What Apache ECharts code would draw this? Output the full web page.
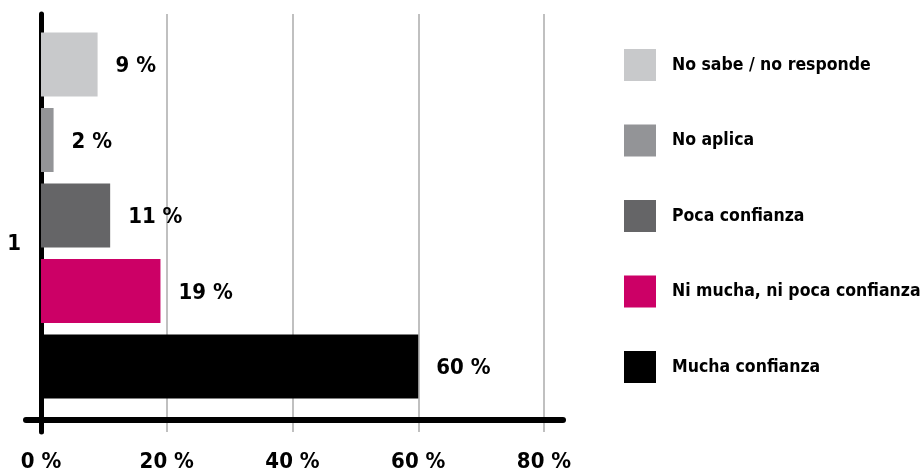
<!DOCTYPE html>
<html>
<head>
<meta charset="utf-8">
<script src="https://cdn.jsdelivr.net/npm/echarts@6/dist/echarts.min.js"></script>
<style>html,body{margin:0;padding:0;background:#fff;}#c{width:924px;height:473px;}</style>
</head>
<body>
<div id="c"></div>
<script>
const categories = ['1'];
const seriesNames = ['No sabe / no responde', 'No aplica', 'Poca confianza', 'Ni mucha, ni poca confianza', 'Mucha confianza'];
const noSabe = [9];
const noAplica = [2];
const poca = [11];
const niMucha = [19];
const mucha = [60];
const seriesValues = [noSabe, noAplica, poca, niMucha, mucha];
const seriesColors = ['#c8c9cb', '#939497', '#656567', '#cc0066', '#000000'];
const xMin = 0, xMax = 80, xStep = 20;

const FONT = "'Liberation Sans Narrow','Arial Narrow','DejaVu Sans Condensed',sans-serif";
const chart = echarts.init(document.getElementById('c'), null, {renderer: 'canvas'});

const series = seriesNames.map((name, i) => ({
  name: name,
  type: 'bar',
  xAxisIndex: 0,
  yAxisIndex: 0,
  data: seriesValues[i],
  barWidth: 64,
  barGap: '18%',
  itemStyle: {color: seriesColors[i]},
  label: {
    show: true,
    position: 'right',
    distance: 18,
    formatter: '{c} %',
    color: '#000',
    fontFamily: FONT,
    fontWeight: 'bold',
    fontSize: 22,
    offset: [0, 2]
  },
  z: 3
}));

chart.setOption({
  animation: false,
  backgroundColor: '#fff',
  grid: [
    {left: 41, width: 503, top: 14, height: 404},
    {left: 41, width: 503, top: 14, height: 418},
    {left: 26, width: 537, top: 14, height: 406}
  ],
  xAxis: [
    {
      gridIndex: 0, type: 'value', min: xMin, max: xMax, interval: xStep,
      axisLine: {show: false}, axisTick: {show: false}, splitLine: {show: false},
      axisLabel: {
        formatter: v => v + ' %', fontFamily: FONT, fontWeight: 'bold', fontSize: 22,
        color: '#000', margin: 34
      }
    },
    {
      gridIndex: 1, type: 'value', min: xMin, max: xMax, interval: xStep,
      axisLine: {show: false}, axisTick: {show: false}, axisLabel: {show: false},
      splitLine: {show: true, lineStyle: {color: '#ababab', width: 1.5}}
    },
    {
      gridIndex: 2, type: 'value', min: 0, max: 1,
      axisLine: {show: true, onZero: false, lineStyle: {color: '#000', width: 6}},
      axisTick: {show: false}, axisLabel: {show: false}, splitLine: {show: false}
    }
  ],
  yAxis: [
    {
      gridIndex: 0, type: 'category', data: categories,
      axisLine: {show: false}, axisTick: {show: false},
      axisLabel: {
        fontFamily: FONT, fontWeight: 'bold', fontSize: 22, color: '#000',
        margin: 20, verticalAlign: 'top', lineHeight: 58
      }
    },
    {
      gridIndex: 1, type: 'category', data: categories,
      axisLine: {show: true, lineStyle: {color: '#000', width: 5}},
      axisTick: {show: false}, axisLabel: {show: false}
    },
    {
      gridIndex: 2, type: 'value', show: false
    }
  ],
  legend: {
    orient: 'vertical',
    left: 624,
    top: 49,
    padding: 0,
    itemWidth: 32,
    itemHeight: 32,
    itemGap: 43.5,
    icon: 'rect',
    data: seriesNames,
    textStyle: {
      fontFamily: FONT, fontWeight: 'bold', fontSize: 17.5, color: '#000',
      padding: [0, 0, 0, 11]
    }
  },
  series: series
});
</script>
</body>
</html>
